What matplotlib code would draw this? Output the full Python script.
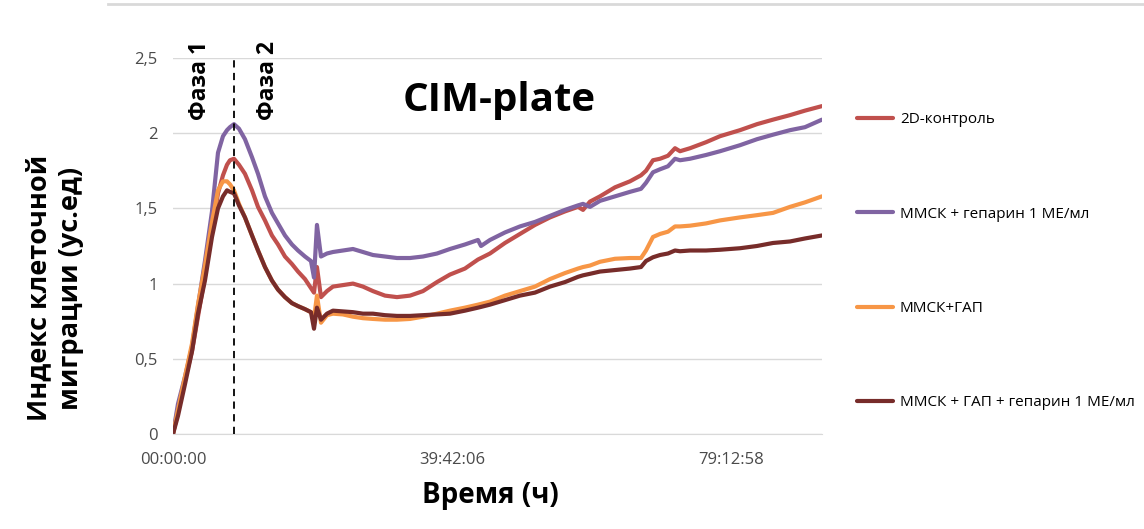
import matplotlib
matplotlib.use("Agg")
import matplotlib.pyplot as plt
from matplotlib.lines import Line2D

plt.rcParams['font.family'] = ['Open Sans', 'DejaVu Sans']

# время, ч
hours = [0.00, 0.71, 1.70, 2.70, 3.55, 4.54, 5.54, 6.39, 7.10, 7.67,
         8.09, 8.66, 9.37, 10.22, 11.22, 12.07, 13.06, 14.05, 14.91, 15.90,
         16.89, 17.75, 18.74, 19.59, 20.02, 20.44, 21.01, 21.86, 22.71, 24.13,
         25.55, 26.97, 28.39, 30.10, 31.80, 33.65, 35.49, 37.48, 39.32, 41.45,
         43.30, 43.73, 45.00, 47.13, 49.26, 51.39, 53.52, 55.65, 57.50, 58.21,
         59.20, 60.62, 62.75, 64.88, 66.44, 67.15, 68.14, 69.14, 70.27, 71.27,
         71.98, 73.40, 75.67, 77.66, 80.49, 82.91, 85.18, 87.59, 89.72, 92.13]

control_2d = [0, 0.15, 0.36, 0.55, 0.78, 1.05, 1.35, 1.60, 1.72, 1.79,
              1.82, 1.83, 1.79, 1.73, 1.62, 1.51, 1.42, 1.32, 1.26, 1.18,
              1.13, 1.08, 1.03, 0.97, 0.94, 1.11, 0.91, 0.95, 0.98, 0.99,
              1.00, 0.98, 0.95, 0.92, 0.91, 0.92, 0.95, 1.01, 1.06, 1.10,
              1.16, 1.17, 1.20, 1.27, 1.33, 1.39, 1.44, 1.48, 1.51, 1.49,
              1.545, 1.58, 1.64, 1.68, 1.72, 1.75, 1.82, 1.83, 1.85, 1.90,
              1.88, 1.90, 1.94, 1.98, 2.02, 2.06, 2.09, 2.12, 2.15, 2.18]

mmsc_heparin = [0, 0.20, 0.38, 0.58, 0.85, 1.15, 1.48, 1.87, 1.98, 2.02,
                2.04, 2.06, 2.03, 1.96, 1.84, 1.73, 1.58, 1.47, 1.40, 1.32,
                1.26, 1.22, 1.18, 1.15, 1.04, 1.39, 1.18, 1.20, 1.21, 1.22,
                1.23, 1.21, 1.19, 1.18, 1.17, 1.17, 1.18, 1.20, 1.23, 1.26,
                1.29, 1.25, 1.29, 1.34, 1.38, 1.41, 1.45, 1.49, 1.52, 1.53,
                1.51, 1.55, 1.58, 1.61, 1.63, 1.67, 1.74, 1.76, 1.78, 1.83,
                1.82, 1.83, 1.855, 1.88, 1.92, 1.96, 1.99, 2.02, 2.04, 2.09]

mmsc_gap = [0, 0.16, 0.38, 0.60, 0.86, 1.12, 1.41, 1.62, 1.68, 1.68,
            1.66, 1.62, 1.53, 1.44, 1.32, 1.22, 1.11, 1.02, 0.96, 0.91,
            0.87, 0.85, 0.83, 0.81, 0.77, 0.92, 0.74, 0.79, 0.80, 0.795,
            0.78, 0.77, 0.765, 0.76, 0.76, 0.765, 0.78, 0.80, 0.82, 0.84,
            0.86, 0.865, 0.88, 0.92, 0.95, 0.98, 1.03, 1.07, 1.10, 1.11,
            1.12, 1.145, 1.165, 1.17, 1.17, 1.22, 1.31, 1.33, 1.345, 1.38,
            1.38, 1.385, 1.40, 1.42, 1.44, 1.455, 1.47, 1.51, 1.54, 1.58]

mmsc_gap_heparin = [0, 0.12, 0.33, 0.55, 0.80, 1.02, 1.31, 1.50, 1.58, 1.62,
                    1.61, 1.60, 1.52, 1.44, 1.32, 1.22, 1.11, 1.02, 0.96, 0.91,
                    0.87, 0.85, 0.83, 0.81, 0.70, 0.84, 0.76, 0.80, 0.82, 0.815,
                    0.81, 0.80, 0.80, 0.79, 0.785, 0.785, 0.79, 0.795, 0.80, 0.82,
                    0.84, 0.845, 0.86, 0.89, 0.92, 0.94, 0.98, 1.01, 1.045, 1.055,
                    1.065, 1.08, 1.09, 1.10, 1.11, 1.15, 1.175, 1.19, 1.20, 1.22,
                    1.215, 1.22, 1.22, 1.225, 1.235, 1.25, 1.27, 1.28, 1.30, 1.32]

labels = ['2D-контроль', 'ММСК + гепарин 1 МЕ/мл', 'ММСК+ГАП',
          'ММСК + ГАП + гепарин 1 МЕ/мл']
colors = ['#C0504D', '#8064A2', '#F79646', '#772C2A']

xtick_pos = [0, 39.70, 79.22]
xtick_labels = ['00:00:00', '39:42:06', '79:12:58']
ytick_pos = [0, 0.5, 1, 1.5, 2, 2.5]
ytick_labels = ['0', '0,5', '1', '1,5', '2', '2,5']

phase_boundary = 8.66

fig = plt.figure(figsize=(11.44, 5.29), dpi=100)
ax = fig.add_axes([0.1512, 0.1796, 0.5673, 0.7108])

for y, lab, c in zip([control_2d, mmsc_heparin, mmsc_gap, mmsc_gap_heparin], labels, colors):
    ax.plot(hours, y, color=c, lw=3, label=lab, solid_joinstyle='round', solid_capstyle='round')

ax.axvline(phase_boundary, color='black', lw=1.3, ls=(0, (4, 3)), zorder=5)

ax.set_xlim(0, 92.13)
ax.set_ylim(0, 2.5)
ax.set_yticks(ytick_pos)
ax.set_yticklabels(ytick_labels)
ax.set_xticks(xtick_pos)
ax.set_xticklabels(xtick_labels)
ax.tick_params(length=0, labelsize=12, colors='#4a4a4a')
ax.tick_params(axis='x', pad=13)
ax.tick_params(axis='y', pad=11)
ax.grid(axis='y', color='#D9D9D9', lw=1)
ax.set_axisbelow(True)
for s in ['top', 'right', 'left']:
    ax.spines[s].set_visible(False)
ax.spines['bottom'].set_color('#D9D9D9')

ax.text(0.503, 0.888, 'CIM-plate', transform=ax.transAxes, ha='center', va='center',
        fontsize=29, fontweight='bold')
ax.text(3.8, 2.35, 'Фаза 1', rotation=90, ha='center', va='center',
        fontsize=16.5, fontweight='bold', clip_on=False)
ax.text(13.5, 2.35, 'Фаза 2', rotation=90, ha='center', va='center',
        fontsize=16.5, fontweight='bold', clip_on=False)

# подписи осей
fig.text(490 / 1144, 1 - 496 / 529, 'Время (ч)', ha='center', va='center',
         fontsize=20, fontweight='bold')
fig.text(55 / 1144, 1 - 288 / 529, 'Индекс клеточной\nмиграции (ус.ед)', rotation=90,
         ha='center', va='center', multialignment='center',
         fontsize=19.5, fontweight='bold', linespacing=1.3)

fig.legend(loc='upper left', bbox_to_anchor=(0.749, 0.788), frameon=False,
           fontsize=11, handlelength=2.35, handletextpad=0.46, labelspacing=5.2,
           borderpad=0, borderaxespad=0)

fig.add_artist(Line2D([108 / 1144, 1], [0.993, 0.993], color='#D9D9D9', lw=2))

fig.savefig('out.png', dpi=100)
